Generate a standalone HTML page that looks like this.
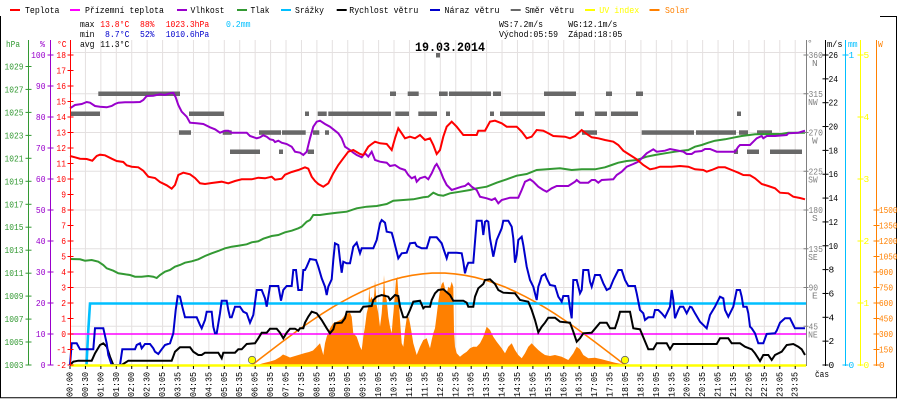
<!DOCTYPE html>
<html><head><meta charset="utf-8"><style>html,body{margin:0;padding:0;background:#fff}svg{display:block}</style></head><body>
<svg xmlns="http://www.w3.org/2000/svg" width="900" height="400" viewBox="0 0 900 400">
<rect width="900" height="400" fill="#fff"/>
<!-- frame -->
<g stroke="#000" stroke-width="1" fill="none">
<line x1="0.5" y1="16" x2="0.5" y2="398"/>
<line x1="896.5" y1="16" x2="896.5" y2="398"/>
<line x1="0" y1="397.8" x2="897" y2="397.8"/>
<line x1="880" y1="16.5" x2="897" y2="16.5"/>
</g>
<!-- grid -->
<g stroke="#e4e0e0" stroke-width="1">
<line x1="71" y1="52.5" x2="806" y2="52.5"/><line x1="71" y1="93.75" x2="806" y2="93.75"/><line x1="71" y1="132.5" x2="806" y2="132.5"/><line x1="71" y1="171.25" x2="806" y2="171.25"/><line x1="71" y1="210" x2="806" y2="210"/><line x1="71" y1="248.75" x2="806" y2="248.75"/><line x1="71" y1="287.5" x2="806" y2="287.5"/><line x1="71" y1="326.25" x2="806" y2="326.25"/>
<line x1="85.43" y1="40" x2="85.43" y2="365"/><line x1="100.86" y1="40" x2="100.86" y2="365"/><line x1="116.29" y1="40" x2="116.29" y2="365"/><line x1="131.72" y1="40" x2="131.72" y2="365"/><line x1="147.15" y1="40" x2="147.15" y2="365"/><line x1="162.58" y1="40" x2="162.58" y2="365"/><line x1="178.01" y1="40" x2="178.01" y2="365"/><line x1="193.44" y1="40" x2="193.44" y2="365"/><line x1="208.87" y1="40" x2="208.87" y2="365"/><line x1="224.3" y1="40" x2="224.3" y2="365"/><line x1="239.73" y1="40" x2="239.73" y2="365"/><line x1="255.16" y1="40" x2="255.16" y2="365"/><line x1="270.59" y1="40" x2="270.59" y2="365"/><line x1="286.02" y1="40" x2="286.02" y2="365"/><line x1="301.45" y1="40" x2="301.45" y2="365"/><line x1="316.88" y1="40" x2="316.88" y2="365"/><line x1="332.31" y1="40" x2="332.31" y2="365"/><line x1="347.74" y1="40" x2="347.74" y2="365"/><line x1="363.17" y1="40" x2="363.17" y2="365"/><line x1="378.6" y1="40" x2="378.6" y2="365"/><line x1="394.03" y1="40" x2="394.03" y2="365"/><line x1="409.46" y1="40" x2="409.46" y2="365"/><line x1="424.89" y1="40" x2="424.89" y2="365"/><line x1="440.32" y1="40" x2="440.32" y2="365"/><line x1="455.75" y1="40" x2="455.75" y2="365"/><line x1="471.18" y1="40" x2="471.18" y2="365"/><line x1="486.61" y1="40" x2="486.61" y2="365"/><line x1="502.04" y1="40" x2="502.04" y2="365"/><line x1="517.47" y1="40" x2="517.47" y2="365"/><line x1="532.9" y1="40" x2="532.9" y2="365"/><line x1="548.33" y1="40" x2="548.33" y2="365"/><line x1="563.76" y1="40" x2="563.76" y2="365"/><line x1="579.19" y1="40" x2="579.19" y2="365"/><line x1="594.62" y1="40" x2="594.62" y2="365"/><line x1="610.05" y1="40" x2="610.05" y2="365"/><line x1="625.48" y1="40" x2="625.48" y2="365"/><line x1="640.91" y1="40" x2="640.91" y2="365"/><line x1="656.34" y1="40" x2="656.34" y2="365"/><line x1="671.77" y1="40" x2="671.77" y2="365"/><line x1="687.2" y1="40" x2="687.2" y2="365"/><line x1="702.63" y1="40" x2="702.63" y2="365"/><line x1="718.06" y1="40" x2="718.06" y2="365"/><line x1="733.49" y1="40" x2="733.49" y2="365"/><line x1="748.92" y1="40" x2="748.92" y2="365"/><line x1="764.35" y1="40" x2="764.35" y2="365"/><line x1="779.78" y1="40" x2="779.78" y2="365"/><line x1="795.21" y1="40" x2="795.21" y2="365"/>
</g>
<!-- wind direction bars -->
<g fill="#686868">
<rect x="436" y="53" width="4" height="4.5"/>
<rect x="98.3" y="91.5" width="81.7" height="4.5"/><rect x="390" y="91.5" width="6" height="4.5"/><rect x="407.7" y="91.5" width="11" height="4.5"/><rect x="439" y="91.5" width="8.7" height="4.5"/><rect x="449" y="91.5" width="42" height="4.5"/><rect x="493" y="91.5" width="8" height="4.5"/><rect x="544" y="91.5" width="32" height="4.5"/><rect x="606" y="91.5" width="6" height="4.5"/><rect x="636" y="91.5" width="7" height="4.5"/>
<rect x="70" y="111.5" width="30" height="4.5"/><rect x="189" y="111.5" width="35" height="4.5"/><rect x="305" y="111.5" width="4" height="4.5"/><rect x="317.7" y="111.5" width="9" height="4.5"/><rect x="328.3" y="111.5" width="62.7" height="4.5"/><rect x="395.3" y="111.5" width="13.7" height="4.5"/><rect x="418.3" y="111.5" width="18.7" height="4.5"/><rect x="446" y="111.5" width="4" height="4.5"/><rect x="490" y="111.5" width="4" height="4.5"/><rect x="500" y="111.5" width="45" height="4.5"/><rect x="575" y="111.5" width="9" height="4.5"/><rect x="595" y="111.5" width="12" height="4.5"/><rect x="611" y="111.5" width="27" height="4.5"/><rect x="737" y="111.5" width="4" height="4.5"/>
<rect x="179" y="130.3" width="12" height="4.5"/><rect x="222.7" y="130.3" width="9" height="4.5"/><rect x="259" y="130.3" width="22" height="4.5"/><rect x="282" y="130.3" width="23.7" height="4.5"/><rect x="313" y="130.3" width="6.3" height="4.5"/><rect x="325" y="130.3" width="4" height="4.5"/><rect x="582" y="130.3" width="15" height="4.5"/><rect x="641.7" y="130.3" width="52.3" height="4.5"/><rect x="696" y="130.3" width="40" height="4.5"/><rect x="739" y="130.3" width="9" height="4.5"/><rect x="757" y="130.3" width="15" height="4.5"/>
<rect x="230" y="149.5" width="30" height="4.5"/><rect x="279" y="149.5" width="4" height="4.5"/><rect x="307.7" y="149.5" width="6.3" height="4.5"/><rect x="734" y="149.5" width="4" height="4.5"/><rect x="747" y="149.5" width="12" height="4.5"/><rect x="770" y="149.5" width="32" height="4.5"/>
</g>
<!-- solar fill -->
<polygon fill="#ff8000" points="258,365 262,363.5 270,361.5 275,360 280,357 283,354.5 286.7,356 290,357.5 295,356 300,354.5 305,353 309,352 313,350.5 316.7,346.7 320,343.3 323.3,355 325,343.3 326.7,336.7 330,328.3 333.3,323.3 336.7,321.7 341.7,319.3 345,315 348.3,313.3 350,312.7 351.7,316.7 353.3,333.3 356.7,336.7 360,346.7 361.7,350 363.3,336.7 365,326.7 366.7,313.3 368.3,306.7 369.3,286.7 370,300 371.7,296.7 373.3,301.7 374.3,293.3 375,280 376.7,305 378.3,313.3 380,326.7 381.7,313.3 383.3,290 384,275 385,293.3 386.7,300 388.3,316.7 390,326.7 391.7,333.3 392.7,320 394,306.7 395,293.3 396,280 397.3,276.7 398.3,293.3 400,320 401.7,343.3 403.3,346.7 405,330 406.7,318.3 408.3,316.7 410,323.3 411.7,333.3 413.3,343.3 416.7,355 420,346.7 423.3,340 426.7,338.3 428.3,343.3 430,348.3 431.7,340 433.3,333.3 435,328.3 436.7,315 438.3,301.7 440,290 441.7,284 443.3,281.7 445,288.3 446.7,293.3 448.3,286.7 450,288.3 451.7,281.7 453.3,286.7 454,330 455,346.7 456.7,353.3 460,356.7 463.3,354 466.7,351.7 470,348.3 473.3,346.7 476.7,346.7 480,343.3 483.3,336.7 486.7,326.7 490,330 493.3,336.7 496.7,341.7 501.7,348.3 505,353.3 508.3,346.7 511.7,343.3 515,350 518.3,355 521.7,358.3 525,353.3 528.3,346.7 531.7,343.3 535,346.7 538.3,350 541.7,352.7 545,355 550,356 555,355 561.7,356.7 568.3,360 573.3,353.3 576.7,346.7 580,349.3 583.3,355 588.3,358.3 595,357.7 601.7,359.3 608.3,361 615,362.7 621.7,364 625,365"/>
<!-- clear sky curve -->
<polyline fill="none" stroke="#ff8000" stroke-width="1.6" points="252,365 262,357.3 272,349.6 282,342 292,334.6 302,327.4 312,320.5 322,313.8 332,307.6 342,301.8 352,296.4 362,291.5 372,287 382,283.2 392,280 402,277.3 412,275.3 422,273.9 432,273.1 438.5,273 445,273.1 455,273.9 465,275.3 475,277.3 485,280 495,283.2 505,287 515,291.5 525,296.4 535,301.8 545,307.6 555,313.8 565,320.5 575,327.4 585,334.6 595,342 605,349.6 615,357.3 625,365"/>
<!-- pressure -->
<polyline fill="none" stroke="#339933" stroke-width="2" points="70,259 80,259.3 85,260.7 91.7,260 98.3,261.7 103.3,265 106.7,268.3 113.3,270.7 118.3,273.3 123.3,274 130,275 135,276.7 141.7,276.7 148.3,276 153.3,276.7 156.7,278 160,275 165,271.7 170,270 175,266.7 180,265 185,262.7 191.7,261.3 198.3,259.3 205,256 211.7,253.3 218.3,251 225,248.3 231.7,246.7 238.3,245.7 246.7,244.3 251.7,242.3 258.3,241.3 263.3,238.7 271.7,236 278.3,235 285,232.3 291.7,230.7 298.3,228.3 301.7,226.7 306.7,221.7 310,220 313.3,215 320,215 326.7,214 336.7,212.7 346.7,211.7 356.7,208.3 366.7,206.7 376.7,206 386.7,204 393.3,200.7 403.3,200 413.3,199.3 423.3,197.3 428.3,196.7 433.3,192.7 438.3,195 443.3,195.7 450,193.3 460,191.7 470,190 476.7,188.3 486.7,186.7 496.7,182.7 506.7,179.3 516.7,175.7 526.7,174 536.7,170 546.7,169.3 560,168.3 571.7,170 581.7,169.3 595,169.3 605,167.3 611.7,165 618.3,162.7 626.7,161 636.7,160 641.7,158.3 646.7,156.7 655,155 665,153.3 675,151.7 681.7,150.7 688.3,150 695,146.7 701.7,145 708.3,142.7 715,140.7 725,139.3 735,137.3 741.7,136 755,134.3 768.3,134 781.7,134 788.3,132.7 805,132.7"/>
<!-- humidity -->
<polyline fill="none" stroke="#9900cc" stroke-width="2" points="70,108.3 75,105 81.7,104 86.7,102 90,102.7 95,106 100,106.7 106.7,107.3 111.7,106 115,104 118.3,102.7 125,102.3 133.3,102.3 140,102 143.3,100 146.7,96 153.3,95.7 160,94.3 165,95 170,93.3 173.3,92.7 175.7,97.3 178.3,105 181.7,111.7 186.7,116.7 190,122.7 196.7,123.3 203.3,124 210,127.3 215,129.3 220,132.7 225,130.7 228.3,130.7 231.7,132.7 238.3,132.7 246.7,132.7 250,136 256.7,138.3 260,137.3 263.3,135.3 266.7,136.7 270,139.3 273.3,140 275,142 278.3,140.7 281.7,142.7 286.7,144 291.7,146.7 295,151.7 300,152.7 303.3,155 306.7,151.7 310,138.3 313.3,126.7 316.7,121.7 320,120.7 325,124 330,126.7 335,130.7 338.3,133.3 341.7,138.3 345,146.7 350,150 353.3,152.7 356.7,155 361.7,157.3 365,153.3 368.3,156.7 371.7,151.7 375,160 380,161.7 386.7,162.7 390,166 395,165 400,168.3 405,170 408.3,175 411.7,178.3 415,176.7 416.7,181.7 420,178.3 425,176.7 428.3,179.3 431.7,173.3 435,166 436.7,164 440,170 443.3,178.3 446.7,185 451.7,190 456.7,188.3 461.7,186.7 465,186 468.3,183.3 471.7,186.7 476.7,190 480,196.7 486.7,198.3 491.7,200 495,198.3 498.3,203.3 501.7,200 510,197.7 518.3,197.7 521.7,190 525,181.7 530,179.3 533.3,181.7 538.3,186.7 543.3,190 546.7,191.7 551.7,188.3 556.7,186 568.3,186 575,181.7 576.7,180 580,182.7 588.3,182.7 591.7,180 595,180 598.3,182.7 601.7,180 613.3,179.3 616.7,175 621.7,171.7 626.7,166.7 633.3,164 638.3,161.7 641.7,158.3 646.7,153.3 653.3,149.3 656.7,151.7 665,150.7 670,149 675,150 683.3,151.7 686.7,154 691.7,154 695,151.7 701.7,151 705,149 710,149 716.7,151.7 735,151.7 738.3,146.7 740,145 750,145 753.3,141.7 756.7,138.3 761.7,136 763.3,138.3 766.7,136 775,136 786.7,135 788.3,133.3 798.3,132.7 805,130.7"/>
<!-- temperature -->
<polyline fill="none" stroke="#ff0000" stroke-width="2" points="70,156 75,157.3 80,158.7 86.7,159 92.3,160.7 96.7,156 100,154.7 105,155.3 111.7,158.7 116.7,161 123.3,162 126.7,165.3 131.7,166.7 138.3,167.3 143.3,170.7 148.3,176.7 155,178 160,182 166.7,185.3 171.7,188.7 175,185 178.3,175 183.3,172.7 190,174.3 195,178 200,183.3 205,184 211.7,183 221.7,181.7 228.3,183.3 235,181 241.7,179.3 251.7,179.3 258.3,177.7 265,178.3 271.7,176.7 275,179.7 281.7,178.7 285,174.7 291.7,172 298.3,170 305,167.3 308.3,168.7 311.7,176.7 315,181 318.3,184 323.3,186.7 328.3,183.3 333.3,173.3 338.3,165 343.3,158.3 348.3,151.7 353.3,150 360,154 363.3,155 368.3,146.7 371.7,144 375,141.7 380,143.3 386.7,144 391.7,150 395,138.3 398.3,128.3 401.7,133.3 405,138.3 410,136.7 415,138.3 420,135 425,140 430,138.3 433.3,145 436.7,154 440,150 443.3,136.7 446.7,126.7 451.7,121.7 456.7,126.7 463.3,135 470,135 476.7,135 478.3,130.7 485,130.7 490,121.7 495,120.7 501.7,123.3 506.7,126.7 516.7,126.7 521.7,131.7 526.7,138.3 531.7,136.7 536.7,130 543.3,130.7 548.3,133.3 553.3,136 565,136.7 570,138.3 575,136 581.7,130 586.7,134 591.7,137.3 598.3,138.3 605,140 613.3,141.7 618.3,145 623.3,150.7 630,155 636.7,159.3 643.3,165 650,169.3 655,168.3 660,166.7 671.7,166.7 680,166 688.3,166.7 695,169.3 703.3,170 706.7,171.7 711.7,170 718.3,167.3 725,167.3 731.7,170 738.3,172.7 743.3,175 750,175.3 755,178.3 761.7,184 768.3,186 775,188.3 780,192.7 788.3,193.3 793.3,196.7 800,198 805,199.3"/>
<!-- precipitation -->
<polyline fill="none" stroke="#00bfff" stroke-width="2.6" points="86.5,365 88,335 90,303.5 806,303.5"/>
<!-- ground temp -->
<line x1="71" y1="334" x2="806" y2="334" stroke="#ff00ff" stroke-width="1.6"/>
<!-- wind speed -->
<polyline fill="none" stroke="#000" stroke-width="2" points="70,365 73.3,361.7 78.3,360.7 91.7,360.7 95,353.3 100,345 103.3,343.3 106.7,346.7 110,356.7 113.3,365 121.7,365 128.3,360.7 171.7,360.7 175,351.7 180,347.3 190,347.3 193.3,351.7 198.3,355 201.7,355 205,352.7 218.3,352.7 221.7,358.3 223.3,352.7 235,352.7 238.3,349.3 241.7,349.3 246.7,344 255,343.3 258.3,338.3 261.7,332.7 266.7,332.7 270,328.7 276.7,328.7 280,332.7 283.3,338.3 286.7,332.7 290,328.7 295,328.7 298.3,330.7 300,328.3 303.3,328.3 305,322.7 308.3,316.7 311.7,311.7 316.7,313.3 321.7,320 326.7,328.3 330,333.3 333.3,329.3 335,323.3 341.7,322.7 345,318.3 346.7,311.7 360,311.7 363.3,306.7 371.7,306 373.3,300 376.7,296.7 381.7,295 388.3,296.7 390,300 395,295 398.3,296 400,306.7 403.3,317.3 406.7,317.3 410,310 413.3,301.7 420,300.7 423.3,308.3 425,306.7 430,306.7 431.7,300 435,293.3 438.3,290 443.3,289.3 450,295 453.3,300.7 463.3,300.7 466.7,302.7 468.3,306.7 473.3,306.7 475,296.7 478.3,288.3 483.3,284 485,280 490,279.3 495,284 498.3,290 503.3,292.7 515,293.3 520,300 528.3,301.7 531.7,310 535,320 538.3,332.3 541.7,326.7 545,322.7 548.3,317.7 555,317.7 560,321.7 570,322.7 573.3,331.7 576.7,341.7 580,338.3 583.3,333.3 591.7,332.7 596.7,326.7 600,322.7 606.7,322.7 610,328.3 615,328.3 618.3,318.3 620,311.7 630,311.7 633.3,328.3 640,329.3 643.3,337.3 648.3,349.3 653.3,349.3 656.7,343.3 666.7,343.3 670,349.3 673.3,344 716.7,344 720,338.3 728.3,338.3 731.7,343.3 740,343.3 745,346.7 751.7,349.3 755,353.3 760,361 763.3,355 768.3,355 771.7,360 775,355 781.7,351.7 786.7,345 793.3,344 798.3,346.7 801.7,349.3 805,355"/>
<!-- gust -->
<polyline fill="none" stroke="#0000cc" stroke-width="2" points="70,365 71.7,343.3 76.7,343.3 80,349.3 93.3,349.3 95,328.3 103.3,328.3 106.7,343.3 108.3,355 111.7,365 120,365 122.3,349.3 135,349.3 136.7,345 140,343.3 141.7,348.3 145,344 150,344 153.3,348.3 155,351.7 158.3,354 161.7,349.3 165,345 170,343.3 173.3,333.3 175.7,310 177.7,296 180,296.7 182.3,306.7 185,317.3 196.7,317.3 200,325 201.7,328.3 205,320 206.7,311.7 211.7,311.7 213.3,326.7 215,333.3 216.7,333.3 220,313.3 221.7,300.7 226.7,300.7 228.3,310 230,317.3 231.7,317.3 235,306.7 240,306.7 243.3,311.7 246.7,313.3 250,322.7 253.3,315 256.7,290 261.7,290 265,298.3 266.7,306.7 270,286 278.3,286 281,300.7 283.3,290 286.7,286 291.7,286 293.3,270 296,270 298.3,290 301.7,290 303.3,270 305,270 306.7,266.7 310,259 316,260 318.3,266.7 321.7,278.3 325,286.7 326.7,295 328.3,286.7 331.7,279.3 333.3,260 335,243.3 338.3,245 340,260 341.7,272.7 343.3,261.7 346.7,263.3 350,263.3 353.3,246.7 356.7,242.7 360,253.3 361.7,248.3 373.3,248.3 376.7,240 380,223.3 381.7,220 385,222.7 386.7,231.7 391.7,232.7 393.3,238.3 396.7,251.7 398.3,258.3 401.7,253.3 406.7,252.7 410,243.3 415,242.7 416.7,246 421.7,248.3 426.7,248.3 430,237.3 436.7,237.3 441.7,243.3 443.3,248.3 446.7,258.3 448.3,252.7 456.7,252.7 461.7,253.3 463.3,261.7 465,273.3 466.7,266.7 468.3,262.7 473.3,262.7 475,241.7 476.7,220.7 481.7,220.7 483.3,235 485,221.7 486.7,220.7 488.3,221.7 490,238.3 493.3,256.7 496.7,240 501.7,228.3 503.3,220.7 508.3,220.7 511.7,226.7 513.3,238.3 515,262.7 516.7,255 518.3,240 521.7,236.7 523.3,245 526.7,266.7 530,280 533.3,286.7 536.7,300 538.3,286.7 540,281.7 541.7,276 545,274 546.7,278.3 550,285 555,286 558.3,296.7 561.7,301.7 563.3,296 568.3,296 570,308.3 571.7,318.3 573.3,280 576.7,280 580,293.3 581.7,290 583.3,270 588.3,270 590,281.7 591.7,286.7 595,275 600,275 603.3,283.3 606.7,290 610,288.3 613.3,280 618.3,270 621.7,270 625,280 628.3,286 635,286 636.7,293.3 640,310 643.3,313.3 645,320 648.3,317.3 653.3,317.3 655,310 658.3,310 661.7,313.3 665,317.3 670,306.7 671.7,290 673.3,300 675,318.3 678.3,310 680,306.7 683.3,306.7 686.7,313.3 690,306.7 691.7,307.3 695,313.3 700,321.7 706.7,328.3 710,315 715,306.7 720,296.7 723.3,298.3 725,310 728.3,316.7 730,313.3 733.3,306.7 736.7,290 740,290 741.7,296.7 743.3,306.7 746.7,306.7 748.3,313.3 750,326.7 751.7,328.3 755,333.3 758.3,343.3 763.3,343.3 766.7,334 775,333.3 776.7,330.7 780,322.7 785,318.3 790,318.3 793.3,325 795,328.3 805,328.3"/>
<!-- UV baseline -->
<line x1="71" y1="365.5" x2="806" y2="365.5" stroke="#ffff00" stroke-width="2.5"/>
<circle cx="252" cy="360" r="3.7" fill="#ffff00" stroke="#666" stroke-width="0.8"/>
<circle cx="625" cy="360" r="3.7" fill="#ffff00" stroke="#666" stroke-width="0.8"/>
<!-- axes -->
<g stroke-width="1">
<line x1="28.5" y1="40" x2="28.5" y2="365" stroke="#339933"/>
<line x1="50.5" y1="40" x2="50.5" y2="365" stroke="#9900cc"/>
<line x1="70.5" y1="40" x2="70.5" y2="366" stroke="#ff0000"/>
<line x1="806.5" y1="40" x2="806.5" y2="366" stroke="#808080"/>
<line x1="825.5" y1="40" x2="825.5" y2="366" stroke="#000"/>
<line x1="845.5" y1="40" x2="845.5" y2="366" stroke="#00bfff"/>
<line x1="860.5" y1="40" x2="860.5" y2="366" stroke="#ffff00"/>
<line x1="876.5" y1="40" x2="876.5" y2="366" stroke="#ff8000"/>
</g>
<!-- ticks -->
<g stroke="#339933"><line x1="25.5" x2="31.5" y1="66.5" y2="66.5"/><line x1="25.5" x2="31.5" y1="89.4" y2="89.4"/><line x1="25.5" x2="31.5" y1="112.4" y2="112.4"/><line x1="25.5" x2="31.5" y1="135.4" y2="135.4"/><line x1="25.5" x2="31.5" y1="158.3" y2="158.3"/><line x1="25.5" x2="31.5" y1="181.3" y2="181.3"/><line x1="25.5" x2="31.5" y1="204.3" y2="204.3"/><line x1="25.5" x2="31.5" y1="227.2" y2="227.2"/><line x1="25.5" x2="31.5" y1="250.2" y2="250.2"/><line x1="25.5" x2="31.5" y1="273.2" y2="273.2"/><line x1="25.5" x2="31.5" y1="296.1" y2="296.1"/><line x1="25.5" x2="31.5" y1="319.1" y2="319.1"/><line x1="25.5" x2="31.5" y1="342" y2="342"/><line x1="25.5" x2="31.5" y1="365" y2="365"/></g>
<g stroke="#9900cc"><line x1="47.5" x2="53.5" y1="55" y2="55"/><line x1="47.5" x2="53.5" y1="86" y2="86"/><line x1="47.5" x2="53.5" y1="117" y2="117"/><line x1="47.5" x2="53.5" y1="148" y2="148"/><line x1="47.5" x2="53.5" y1="179" y2="179"/><line x1="47.5" x2="53.5" y1="210" y2="210"/><line x1="47.5" x2="53.5" y1="241" y2="241"/><line x1="47.5" x2="53.5" y1="272" y2="272"/><line x1="47.5" x2="53.5" y1="303" y2="303"/><line x1="47.5" x2="53.5" y1="334" y2="334"/><line x1="47.5" x2="53.5" y1="365" y2="365"/></g>
<g stroke="#ff0000"><line x1="67.5" x2="73.5" y1="55" y2="55"/><line x1="67.5" x2="73.5" y1="70.5" y2="70.5"/><line x1="67.5" x2="73.5" y1="86" y2="86"/><line x1="67.5" x2="73.5" y1="101.5" y2="101.5"/><line x1="67.5" x2="73.5" y1="117" y2="117"/><line x1="67.5" x2="73.5" y1="132.5" y2="132.5"/><line x1="67.5" x2="73.5" y1="148" y2="148"/><line x1="67.5" x2="73.5" y1="163.5" y2="163.5"/><line x1="67.5" x2="73.5" y1="179" y2="179"/><line x1="67.5" x2="73.5" y1="194.5" y2="194.5"/><line x1="67.5" x2="73.5" y1="210" y2="210"/><line x1="67.5" x2="73.5" y1="225.5" y2="225.5"/><line x1="67.5" x2="73.5" y1="241" y2="241"/><line x1="67.5" x2="73.5" y1="256.5" y2="256.5"/><line x1="67.5" x2="73.5" y1="272" y2="272"/><line x1="67.5" x2="73.5" y1="287.5" y2="287.5"/><line x1="67.5" x2="73.5" y1="303" y2="303"/><line x1="67.5" x2="73.5" y1="318.5" y2="318.5"/><line x1="67.5" x2="73.5" y1="334" y2="334"/><line x1="67.5" x2="73.5" y1="349.5" y2="349.5"/><line x1="67.5" x2="73.5" y1="365" y2="365"/></g>
<g stroke="#808080"><line x1="803.5" x2="808.5" y1="55" y2="55"/><line x1="803.5" x2="808.5" y1="93.75" y2="93.75"/><line x1="803.5" x2="808.5" y1="132.5" y2="132.5"/><line x1="803.5" x2="808.5" y1="171.25" y2="171.25"/><line x1="803.5" x2="808.5" y1="210" y2="210"/><line x1="803.5" x2="808.5" y1="248.75" y2="248.75"/><line x1="803.5" x2="808.5" y1="287.5" y2="287.5"/><line x1="803.5" x2="808.5" y1="326.25" y2="326.25"/></g>
<g stroke="#000"><line x1="822.5" x2="828.5" y1="55" y2="55"/><line x1="822.5" x2="828.5" y1="78.85" y2="78.85"/><line x1="822.5" x2="828.5" y1="102.7" y2="102.7"/><line x1="822.5" x2="828.5" y1="126.54" y2="126.54"/><line x1="822.5" x2="828.5" y1="150.38" y2="150.38"/><line x1="822.5" x2="828.5" y1="174.23" y2="174.23"/><line x1="822.5" x2="828.5" y1="198.08" y2="198.08"/><line x1="822.5" x2="828.5" y1="221.92" y2="221.92"/><line x1="822.5" x2="828.5" y1="245.77" y2="245.77"/><line x1="822.5" x2="828.5" y1="269.6" y2="269.6"/><line x1="822.5" x2="828.5" y1="293.46" y2="293.46"/><line x1="822.5" x2="828.5" y1="317.3" y2="317.3"/><line x1="822.5" x2="828.5" y1="341.15" y2="341.15"/><line x1="822.5" x2="828.5" y1="365" y2="365"/></g>
<g stroke="#00bfff"><line x1="842.5" x2="848.5" y1="55" y2="55"/><line x1="842.5" x2="848.5" y1="365" y2="365"/></g>
<g stroke="#ffff00"><line x1="857.5" x2="863.5" y1="55" y2="55"/><line x1="857.5" x2="863.5" y1="117" y2="117"/><line x1="857.5" x2="863.5" y1="179" y2="179"/><line x1="857.5" x2="863.5" y1="241" y2="241"/><line x1="857.5" x2="863.5" y1="303" y2="303"/><line x1="857.5" x2="863.5" y1="365" y2="365"/></g>
<g stroke="#ff8000"><line x1="873.5" x2="879.5" y1="210" y2="210"/><line x1="873.5" x2="879.5" y1="225.5" y2="225.5"/><line x1="873.5" x2="879.5" y1="241" y2="241"/><line x1="873.5" x2="879.5" y1="256.5" y2="256.5"/><line x1="873.5" x2="879.5" y1="272" y2="272"/><line x1="873.5" x2="879.5" y1="287.5" y2="287.5"/><line x1="873.5" x2="879.5" y1="303" y2="303"/><line x1="873.5" x2="879.5" y1="318.5" y2="318.5"/><line x1="873.5" x2="879.5" y1="334" y2="334"/><line x1="873.5" x2="879.5" y1="349.5" y2="349.5"/><line x1="873.5" x2="879.5" y1="365" y2="365"/></g>
<g stroke="#000"><line x1="70" x2="70" y1="366" y2="369"/><line x1="85.43" x2="85.43" y1="366" y2="369"/><line x1="100.86" x2="100.86" y1="366" y2="369"/><line x1="116.29" x2="116.29" y1="366" y2="369"/><line x1="131.72" x2="131.72" y1="366" y2="369"/><line x1="147.15" x2="147.15" y1="366" y2="369"/><line x1="162.58" x2="162.58" y1="366" y2="369"/><line x1="178.01" x2="178.01" y1="366" y2="369"/><line x1="193.44" x2="193.44" y1="366" y2="369"/><line x1="208.87" x2="208.87" y1="366" y2="369"/><line x1="224.3" x2="224.3" y1="366" y2="369"/><line x1="239.73" x2="239.73" y1="366" y2="369"/><line x1="255.16" x2="255.16" y1="366" y2="369"/><line x1="270.59" x2="270.59" y1="366" y2="369"/><line x1="286.02" x2="286.02" y1="366" y2="369"/><line x1="301.45" x2="301.45" y1="366" y2="369"/><line x1="316.88" x2="316.88" y1="366" y2="369"/><line x1="332.31" x2="332.31" y1="366" y2="369"/><line x1="347.74" x2="347.74" y1="366" y2="369"/><line x1="363.17" x2="363.17" y1="366" y2="369"/><line x1="378.6" x2="378.6" y1="366" y2="369"/><line x1="394.03" x2="394.03" y1="366" y2="369"/><line x1="409.46" x2="409.46" y1="366" y2="369"/><line x1="424.89" x2="424.89" y1="366" y2="369"/><line x1="440.32" x2="440.32" y1="366" y2="369"/><line x1="455.75" x2="455.75" y1="366" y2="369"/><line x1="471.18" x2="471.18" y1="366" y2="369"/><line x1="486.61" x2="486.61" y1="366" y2="369"/><line x1="502.04" x2="502.04" y1="366" y2="369"/><line x1="517.47" x2="517.47" y1="366" y2="369"/><line x1="532.9" x2="532.9" y1="366" y2="369"/><line x1="548.33" x2="548.33" y1="366" y2="369"/><line x1="563.76" x2="563.76" y1="366" y2="369"/><line x1="579.19" x2="579.19" y1="366" y2="369"/><line x1="594.62" x2="594.62" y1="366" y2="369"/><line x1="610.05" x2="610.05" y1="366" y2="369"/><line x1="625.48" x2="625.48" y1="366" y2="369"/><line x1="640.91" x2="640.91" y1="366" y2="369"/><line x1="656.34" x2="656.34" y1="366" y2="369"/><line x1="671.77" x2="671.77" y1="366" y2="369"/><line x1="687.2" x2="687.2" y1="366" y2="369"/><line x1="702.63" x2="702.63" y1="366" y2="369"/><line x1="718.06" x2="718.06" y1="366" y2="369"/><line x1="733.49" x2="733.49" y1="366" y2="369"/><line x1="748.92" x2="748.92" y1="366" y2="369"/><line x1="764.35" x2="764.35" y1="366" y2="369"/><line x1="779.78" x2="779.78" y1="366" y2="369"/><line x1="795.21" x2="795.21" y1="366" y2="369"/></g>

<g font-family="'Liberation Mono', 'DejaVu Sans Mono', monospace" font-size="9.5" lengthAdjust="spacingAndGlyphs">
<!-- legend -->
<rect x="10" y="9" width="10" height="2" fill="#ff0000"/><text x="25" y="13" textLength="34.5" lengthAdjust="spacingAndGlyphs">Teplota</text>
<rect x="70" y="9" width="10" height="2" fill="#ff00ff"/><text x="85" y="13" textLength="79" lengthAdjust="spacingAndGlyphs">Přízemní teplota</text>
<rect x="177" y="9" width="10" height="2" fill="#9900cc"/><text x="190.5" y="13" textLength="34" lengthAdjust="spacingAndGlyphs">Vlhkost</text>
<rect x="237" y="9" width="10" height="2" fill="#339933"/><text x="250.5" y="13" textLength="19" lengthAdjust="spacingAndGlyphs">Tlak</text>
<rect x="281" y="9" width="10" height="2" fill="#00bfff"/><text x="295" y="13" textLength="29" lengthAdjust="spacingAndGlyphs">Srážky</text>
<rect x="336.7" y="9" width="10" height="2" fill="#000"/><text x="349.3" y="13" textLength="69" lengthAdjust="spacingAndGlyphs">Rychlost větru</text>
<rect x="430" y="9" width="10" height="2" fill="#0000cc"/><text x="444.5" y="13" textLength="55" lengthAdjust="spacingAndGlyphs">Náraz větru</text>
<rect x="510.7" y="9" width="10" height="2" fill="#686868"/><text x="525" y="13" textLength="49" lengthAdjust="spacingAndGlyphs">Směr větru</text>
<rect x="585" y="9" width="10" height="2" fill="#ffff00"/><text x="599.3" y="13" textLength="40" lengthAdjust="spacingAndGlyphs" fill="#ffff00">UV index</text>
<rect x="649.5" y="9" width="10" height="2" fill="#ff8000"/><text x="665" y="13" textLength="24.5" lengthAdjust="spacingAndGlyphs" fill="#ff8000">Solar</text>
<!-- stats -->
<text x="80" y="27" textLength="14.5" lengthAdjust="spacingAndGlyphs">max</text>
<text x="100.3" y="27" textLength="29" lengthAdjust="spacingAndGlyphs" fill="#ff0000">13.8°C</text>
<text x="140" y="27" textLength="14.5" lengthAdjust="spacingAndGlyphs" fill="#ff0000">88%</text>
<text x="165.7" y="27" textLength="43.5" lengthAdjust="spacingAndGlyphs" fill="#ff0000">1023.3hPa</text>
<text x="226" y="27" textLength="24.5" lengthAdjust="spacingAndGlyphs" fill="#00bfff">0.2mm</text>
<text x="80" y="37" textLength="14.5" lengthAdjust="spacingAndGlyphs">min</text>
<text x="105" y="37" textLength="24.5" lengthAdjust="spacingAndGlyphs" fill="#0000cc">8.7°C</text>
<text x="140" y="37" textLength="14.5" lengthAdjust="spacingAndGlyphs" fill="#0000cc">52%</text>
<text x="165.7" y="37" textLength="43.5" lengthAdjust="spacingAndGlyphs" fill="#0000cc">1010.6hPa</text>
<text x="80" y="47" textLength="14.5" lengthAdjust="spacingAndGlyphs">avg</text>
<text x="100.3" y="47" textLength="29" lengthAdjust="spacingAndGlyphs">11.3°C</text>
<text x="499" y="27" textLength="44" lengthAdjust="spacingAndGlyphs">WS:7.2m/s</text>
<text x="568.3" y="27" textLength="49" lengthAdjust="spacingAndGlyphs">WG:12.1m/s</text>
<text x="499" y="37" textLength="59" lengthAdjust="spacingAndGlyphs">Východ:05:59</text>
<text x="568.3" y="37" textLength="54" lengthAdjust="spacingAndGlyphs">Západ:18:05</text>
<text x="415" y="51" font-size="12.5" font-weight="bold" textLength="70" lengthAdjust="spacingAndGlyphs">19.03.2014</text>
<!-- axis titles -->
<text x="6" y="47" fill="#339933" textLength="14" lengthAdjust="spacingAndGlyphs">hPa</text>
<text x="40" y="47" fill="#9900cc" textLength="5" lengthAdjust="spacingAndGlyphs">%</text>
<text x="57" y="47" fill="#ff0000" textLength="9.6" lengthAdjust="spacingAndGlyphs">°C</text>
<text x="807" y="46" fill="#808080">°</text>
<text x="827" y="47" textLength="15.5" lengthAdjust="spacingAndGlyphs">m/s</text>
<text x="848" y="47" fill="#00bfff" textLength="9.6" lengthAdjust="spacingAndGlyphs">mm</text>
<text x="878" y="47" fill="#ff8000" textLength="4.8" lengthAdjust="spacingAndGlyphs">W</text>
<text x="815" y="377" textLength="14" lengthAdjust="spacingAndGlyphs">čas</text>
<!-- hPa labels -->
<g fill="#339933" text-anchor="end">
<text x="23.5" y="69.5" textLength="19" lengthAdjust="spacingAndGlyphs">1029</text><text x="23.5" y="92.4" textLength="19" lengthAdjust="spacingAndGlyphs">1027</text><text x="23.5" y="115.4" textLength="19" lengthAdjust="spacingAndGlyphs">1025</text><text x="23.5" y="138.4" textLength="19" lengthAdjust="spacingAndGlyphs">1023</text><text x="23.5" y="161.3" textLength="19" lengthAdjust="spacingAndGlyphs">1021</text><text x="23.5" y="184.3" textLength="19" lengthAdjust="spacingAndGlyphs">1019</text><text x="23.5" y="207.3" textLength="19" lengthAdjust="spacingAndGlyphs">1017</text><text x="23.5" y="230.2" textLength="19" lengthAdjust="spacingAndGlyphs">1015</text><text x="23.5" y="253.2" textLength="19" lengthAdjust="spacingAndGlyphs">1013</text><text x="23.5" y="276.2" textLength="19" lengthAdjust="spacingAndGlyphs">1011</text><text x="23.5" y="299.1" textLength="19" lengthAdjust="spacingAndGlyphs">1009</text><text x="23.5" y="322.1" textLength="19" lengthAdjust="spacingAndGlyphs">1007</text><text x="23.5" y="345" textLength="19" lengthAdjust="spacingAndGlyphs">1005</text><text x="23.5" y="368" textLength="19" lengthAdjust="spacingAndGlyphs">1003</text>
</g>
<g fill="#9900cc" text-anchor="end">
<text x="45.5" y="58" textLength="14.4" lengthAdjust="spacingAndGlyphs">100</text><text x="45.5" y="89" textLength="9.6" lengthAdjust="spacingAndGlyphs">90</text><text x="45.5" y="120" textLength="9.6" lengthAdjust="spacingAndGlyphs">80</text><text x="45.5" y="151" textLength="9.6" lengthAdjust="spacingAndGlyphs">70</text><text x="45.5" y="182" textLength="9.6" lengthAdjust="spacingAndGlyphs">60</text><text x="45.5" y="213" textLength="9.6" lengthAdjust="spacingAndGlyphs">50</text><text x="45.5" y="244" textLength="9.6" lengthAdjust="spacingAndGlyphs">40</text><text x="45.5" y="275" textLength="9.6" lengthAdjust="spacingAndGlyphs">30</text><text x="45.5" y="306" textLength="9.6" lengthAdjust="spacingAndGlyphs">20</text><text x="45.5" y="337" textLength="9.6" lengthAdjust="spacingAndGlyphs">10</text><text x="45.5" y="368" textLength="4.8" lengthAdjust="spacingAndGlyphs">0</text>
</g>
<g fill="#ff0000" text-anchor="end">
<text x="66" y="58" textLength="9.6" lengthAdjust="spacingAndGlyphs">18</text><text x="66" y="73.5" textLength="9.6" lengthAdjust="spacingAndGlyphs">17</text><text x="66" y="89" textLength="9.6" lengthAdjust="spacingAndGlyphs">16</text><text x="66" y="104.5" textLength="9.6" lengthAdjust="spacingAndGlyphs">15</text><text x="66" y="120" textLength="9.6" lengthAdjust="spacingAndGlyphs">14</text><text x="66" y="135.5" textLength="9.6" lengthAdjust="spacingAndGlyphs">13</text><text x="66" y="151" textLength="9.6" lengthAdjust="spacingAndGlyphs">12</text><text x="66" y="166.5" textLength="9.6" lengthAdjust="spacingAndGlyphs">11</text><text x="66" y="182" textLength="9.6" lengthAdjust="spacingAndGlyphs">10</text><text x="66" y="197.5" textLength="4.8" lengthAdjust="spacingAndGlyphs">9</text><text x="66" y="213" textLength="4.8" lengthAdjust="spacingAndGlyphs">8</text><text x="66" y="228.5" textLength="4.8" lengthAdjust="spacingAndGlyphs">7</text><text x="66" y="244" textLength="4.8" lengthAdjust="spacingAndGlyphs">6</text><text x="66" y="259.5" textLength="4.8" lengthAdjust="spacingAndGlyphs">5</text><text x="66" y="275" textLength="4.8" lengthAdjust="spacingAndGlyphs">4</text><text x="66" y="290.5" textLength="4.8" lengthAdjust="spacingAndGlyphs">3</text><text x="66" y="306" textLength="4.8" lengthAdjust="spacingAndGlyphs">2</text><text x="66" y="321.5" textLength="4.8" lengthAdjust="spacingAndGlyphs">1</text><text x="66" y="337" textLength="4.8" lengthAdjust="spacingAndGlyphs">0</text><text x="66" y="352.5" textLength="9.6" lengthAdjust="spacingAndGlyphs">-1</text><text x="66" y="368" textLength="9.6" lengthAdjust="spacingAndGlyphs">-2</text>
</g>
<!-- direction labels -->
<g fill="#808080">
<text x="808.5" y="58" textLength="14.4" lengthAdjust="spacingAndGlyphs">360</text><text x="817.7" y="66" text-anchor="end">N</text>
<text x="808.5" y="96.75" textLength="14.4" lengthAdjust="spacingAndGlyphs">315</text><text x="817.7" y="104.75" text-anchor="end" textLength="9.6" lengthAdjust="spacingAndGlyphs">NW</text>
<text x="808.5" y="135.5" textLength="14.4" lengthAdjust="spacingAndGlyphs">270</text><text x="817.7" y="143.5" text-anchor="end">W</text>
<text x="808.5" y="174.25" textLength="14.4" lengthAdjust="spacingAndGlyphs">225</text><text x="817.7" y="182.25" text-anchor="end" textLength="9.6" lengthAdjust="spacingAndGlyphs">SW</text>
<text x="808.5" y="213" textLength="14.4" lengthAdjust="spacingAndGlyphs">180</text><text x="817.7" y="221" text-anchor="end">S</text>
<text x="808.5" y="251.75" textLength="14.4" lengthAdjust="spacingAndGlyphs">135</text><text x="817.7" y="259.75" text-anchor="end" textLength="9.6" lengthAdjust="spacingAndGlyphs">SE</text>
<text x="808.5" y="290.5" textLength="9.6" lengthAdjust="spacingAndGlyphs">90</text><text x="817.7" y="298.5" text-anchor="end">E</text>
<text x="808.5" y="329.25" textLength="9.6" lengthAdjust="spacingAndGlyphs">45</text><text x="817.7" y="337.25" text-anchor="end" textLength="9.6" lengthAdjust="spacingAndGlyphs">NE</text>
</g>
<!-- m/s labels -->
<g fill="#000">
<text x="828.5" y="58" textLength="9.6" lengthAdjust="spacingAndGlyphs">26</text><text x="828.5" y="81.85" textLength="9.6" lengthAdjust="spacingAndGlyphs">24</text><text x="828.5" y="105.7" textLength="9.6" lengthAdjust="spacingAndGlyphs">22</text><text x="828.5" y="129.54" textLength="9.6" lengthAdjust="spacingAndGlyphs">20</text><text x="828.5" y="153.38" textLength="9.6" lengthAdjust="spacingAndGlyphs">18</text><text x="828.5" y="177.23" textLength="9.6" lengthAdjust="spacingAndGlyphs">16</text><text x="828.5" y="201.08" textLength="9.6" lengthAdjust="spacingAndGlyphs">14</text><text x="828.5" y="224.92" textLength="9.6" lengthAdjust="spacingAndGlyphs">12</text><text x="828.5" y="248.77" textLength="9.6" lengthAdjust="spacingAndGlyphs">10</text><text x="828.5" y="272.6">8</text><text x="828.5" y="296.46">6</text><text x="828.5" y="320.3">4</text><text x="828.5" y="344.15">2</text><text x="828.5" y="368">0</text>
</g>
<g fill="#00bfff"><text x="848.5" y="58">1</text><text x="848.5" y="368">0</text></g>
<g fill="#ffff00"><text x="863.5" y="58">5</text><text x="863.5" y="120">4</text><text x="863.5" y="182">3</text><text x="863.5" y="244">2</text><text x="863.5" y="306">1</text><text x="863.5" y="368">0</text></g>
<g fill="#ff8000">
<text x="879" y="213" textLength="18.5" lengthAdjust="spacingAndGlyphs">1500</text><text x="879" y="228.5" textLength="18.5" lengthAdjust="spacingAndGlyphs">1350</text><text x="879" y="244" textLength="18.5" lengthAdjust="spacingAndGlyphs">1200</text><text x="879" y="259.5" textLength="18.5" lengthAdjust="spacingAndGlyphs">1050</text><text x="879" y="275" textLength="14" lengthAdjust="spacingAndGlyphs">900</text><text x="879" y="290.5" textLength="14" lengthAdjust="spacingAndGlyphs">750</text><text x="879" y="306" textLength="14" lengthAdjust="spacingAndGlyphs">600</text><text x="879" y="321.5" textLength="14" lengthAdjust="spacingAndGlyphs">450</text><text x="879" y="337" textLength="14" lengthAdjust="spacingAndGlyphs">300</text><text x="879" y="352.5" textLength="14" lengthAdjust="spacingAndGlyphs">150</text><text x="879" y="368">0</text>
</g>
<!-- x labels -->
<g fill="#000">
<text transform="translate(72.5,397) rotate(-90)" textLength="25" lengthAdjust="spacingAndGlyphs">00:00</text>
<text transform="translate(87.93,397) rotate(-90)" textLength="25" lengthAdjust="spacingAndGlyphs">00:30</text>
<text transform="translate(103.36,397) rotate(-90)" textLength="25" lengthAdjust="spacingAndGlyphs">01:00</text>
<text transform="translate(118.79,397) rotate(-90)" textLength="25" lengthAdjust="spacingAndGlyphs">01:30</text>
<text transform="translate(134.22,397) rotate(-90)" textLength="25" lengthAdjust="spacingAndGlyphs">02:00</text>
<text transform="translate(149.65,397) rotate(-90)" textLength="25" lengthAdjust="spacingAndGlyphs">02:30</text>
<text transform="translate(165.08,397) rotate(-90)" textLength="25" lengthAdjust="spacingAndGlyphs">03:05</text>
<text transform="translate(180.51,397) rotate(-90)" textLength="25" lengthAdjust="spacingAndGlyphs">03:35</text>
<text transform="translate(195.94,397) rotate(-90)" textLength="25" lengthAdjust="spacingAndGlyphs">04:05</text>
<text transform="translate(211.37,397) rotate(-90)" textLength="25" lengthAdjust="spacingAndGlyphs">04:35</text>
<text transform="translate(226.8,397) rotate(-90)" textLength="25" lengthAdjust="spacingAndGlyphs">05:05</text>
<text transform="translate(242.23,397) rotate(-90)" textLength="25" lengthAdjust="spacingAndGlyphs">05:35</text>
<text transform="translate(257.66,397) rotate(-90)" textLength="25" lengthAdjust="spacingAndGlyphs">06:05</text>
<text transform="translate(273.09,397) rotate(-90)" textLength="25" lengthAdjust="spacingAndGlyphs">06:35</text>
<text transform="translate(288.52,397) rotate(-90)" textLength="25" lengthAdjust="spacingAndGlyphs">07:05</text>
<text transform="translate(303.95,397) rotate(-90)" textLength="25" lengthAdjust="spacingAndGlyphs">07:35</text>
<text transform="translate(319.38,397) rotate(-90)" textLength="25" lengthAdjust="spacingAndGlyphs">08:05</text>
<text transform="translate(334.81,397) rotate(-90)" textLength="25" lengthAdjust="spacingAndGlyphs">08:35</text>
<text transform="translate(350.24,397) rotate(-90)" textLength="25" lengthAdjust="spacingAndGlyphs">09:05</text>
<text transform="translate(365.67,397) rotate(-90)" textLength="25" lengthAdjust="spacingAndGlyphs">09:35</text>
<text transform="translate(381.1,397) rotate(-90)" textLength="25" lengthAdjust="spacingAndGlyphs">10:05</text>
<text transform="translate(396.53,397) rotate(-90)" textLength="25" lengthAdjust="spacingAndGlyphs">10:35</text>
<text transform="translate(411.96,397) rotate(-90)" textLength="25" lengthAdjust="spacingAndGlyphs">11:05</text>
<text transform="translate(427.39,397) rotate(-90)" textLength="25" lengthAdjust="spacingAndGlyphs">11:35</text>
<text transform="translate(442.82,397) rotate(-90)" textLength="25" lengthAdjust="spacingAndGlyphs">12:05</text>
<text transform="translate(458.25,397) rotate(-90)" textLength="25" lengthAdjust="spacingAndGlyphs">12:35</text>
<text transform="translate(473.68,397) rotate(-90)" textLength="25" lengthAdjust="spacingAndGlyphs">13:05</text>
<text transform="translate(489.11,397) rotate(-90)" textLength="25" lengthAdjust="spacingAndGlyphs">13:35</text>
<text transform="translate(504.54,397) rotate(-90)" textLength="25" lengthAdjust="spacingAndGlyphs">14:05</text>
<text transform="translate(519.97,397) rotate(-90)" textLength="25" lengthAdjust="spacingAndGlyphs">14:35</text>
<text transform="translate(535.4,397) rotate(-90)" textLength="25" lengthAdjust="spacingAndGlyphs">15:05</text>
<text transform="translate(550.83,397) rotate(-90)" textLength="25" lengthAdjust="spacingAndGlyphs">15:35</text>
<text transform="translate(566.26,397) rotate(-90)" textLength="25" lengthAdjust="spacingAndGlyphs">16:05</text>
<text transform="translate(581.69,397) rotate(-90)" textLength="25" lengthAdjust="spacingAndGlyphs">16:35</text>
<text transform="translate(597.12,397) rotate(-90)" textLength="25" lengthAdjust="spacingAndGlyphs">17:05</text>
<text transform="translate(612.55,397) rotate(-90)" textLength="25" lengthAdjust="spacingAndGlyphs">17:35</text>
<text transform="translate(627.98,397) rotate(-90)" textLength="25" lengthAdjust="spacingAndGlyphs">18:05</text>
<text transform="translate(643.41,397) rotate(-90)" textLength="25" lengthAdjust="spacingAndGlyphs">18:35</text>
<text transform="translate(658.84,397) rotate(-90)" textLength="25" lengthAdjust="spacingAndGlyphs">19:05</text>
<text transform="translate(674.27,397) rotate(-90)" textLength="25" lengthAdjust="spacingAndGlyphs">19:35</text>
<text transform="translate(689.7,397) rotate(-90)" textLength="25" lengthAdjust="spacingAndGlyphs">20:05</text>
<text transform="translate(705.13,397) rotate(-90)" textLength="25" lengthAdjust="spacingAndGlyphs">20:35</text>
<text transform="translate(720.56,397) rotate(-90)" textLength="25" lengthAdjust="spacingAndGlyphs">21:05</text>
<text transform="translate(735.99,397) rotate(-90)" textLength="25" lengthAdjust="spacingAndGlyphs">21:35</text>
<text transform="translate(751.42,397) rotate(-90)" textLength="25" lengthAdjust="spacingAndGlyphs">22:05</text>
<text transform="translate(766.85,397) rotate(-90)" textLength="25" lengthAdjust="spacingAndGlyphs">22:35</text>
<text transform="translate(782.28,397) rotate(-90)" textLength="25" lengthAdjust="spacingAndGlyphs">23:05</text>
<text transform="translate(797.71,397) rotate(-90)" textLength="25" lengthAdjust="spacingAndGlyphs">23:35</text>
</g>
</g>
</svg>
</body></html>
